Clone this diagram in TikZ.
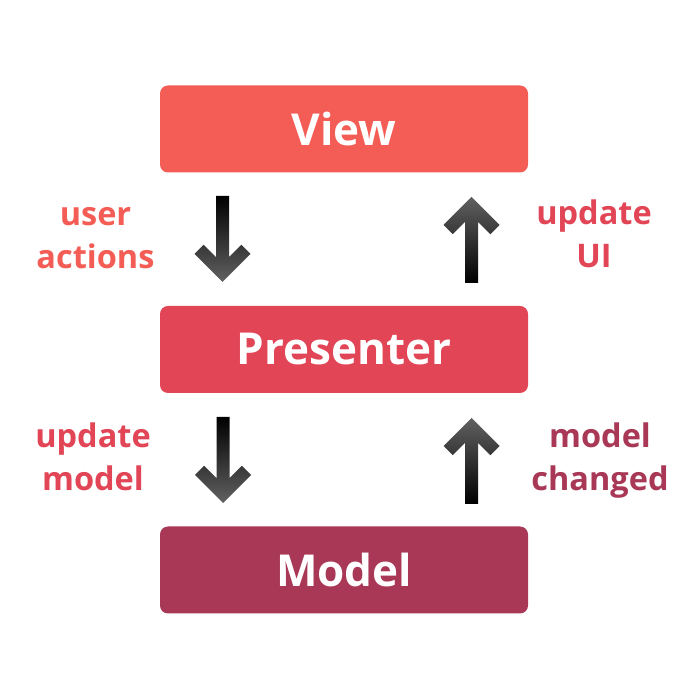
\documentclass[tikz,border=0pt]{standalone}
\usepackage{fontspec}
\setmainfont{Open Sans}
\usetikzlibrary{calc}

\definecolor{viewcol}{HTML}{F45D55}
\definecolor{prescol}{HTML}{E14556}
\definecolor{modelcol}{HTML}{A83855}

\tikzset{
  % block arrow with a chevron head; tip at the pic origin
  downarrow/.pic={
    \shade[top color=black, bottom color=black!62]
      (0,0) -- (28,28) -- (18.8,37.2) -- (6.5,24.9) -- (6.5,86)
      -- (-6.5,86) -- (-6.5,24.9) -- (-18.8,37.2) -- (-28,28) -- cycle;
  },
  uparrow/.pic={
    \shade[top color=black!62, bottom color=black]
      (0,0) -- (28,-28) -- (18.8,-37.2) -- (6.5,-24.9) -- (6.5,-86)
      -- (-6.5,-86) -- (-6.5,-24.9) -- (-18.8,-37.2) -- (-28,-28) -- cycle;
  }
}

\begin{document}
\begin{tikzpicture}[x=1pt,y=1pt,
  box/.style={rounded corners=8pt, minimum width=368pt, minimum height=87pt,
    inner sep=0pt, text=white, font=\fontsize{44}{50}\selectfont\bfseries},
  lbl/.style={align=center, anchor=base, inner sep=0pt,
    font=\fontsize{32.5}{43}\selectfont\bfseries}]

\useasboundingbox (0,0) rectangle (700,700);
\fill[white] (0,0) rectangle (700,700);

% the three layers
\node[box, fill=viewcol]  (view)  at (344,571)   {View};
\node[box, fill=prescol]  (pres)  at (344,350.5) {Presenter};
\node[box, fill=modelcol] (model) at (344,130)   {Model};

% arrows between the layers
\pic at (222.5,418) {downarrow};
\pic at (471.5,503) {uparrow};
\pic at (223,197)   {downarrow};
\pic at (471.5,282) {uparrow};

% arrow captions (base anchor sits on the last line)
\node[lbl, text=viewcol]  (ua) at (95.5,431) {user\\actions};
\node[lbl, text=prescol]  (uu) at (594,432)  {update\\UI};
\node[lbl, text=prescol]  (um) at (93,209)   {update\\model};
\node[lbl, text=modelcol] (mc) at (600,209)  {model\\changed};
\end{tikzpicture}
\end{document}
